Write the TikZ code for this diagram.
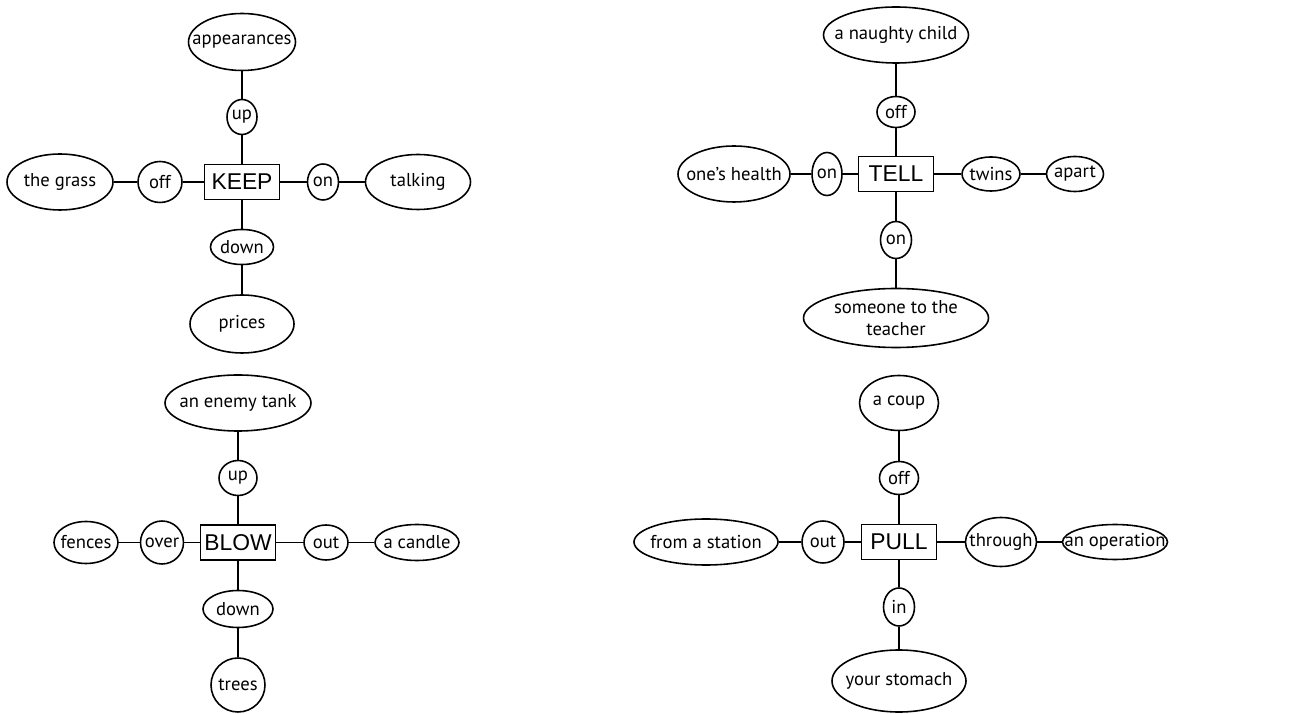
\documentclass[tikz,border=0pt]{standalone}
\usepackage{fontspec}
\usepackage{tikz}
\usetikzlibrary{shapes.geometric}
\newfontfamily\handfont{PT Sans}
\newfontfamily\verbfont{Liberation Sans}
\tikzset{
  verbbox/.style={draw=black, line width=0.9pt, inner sep=0pt, minimum width=15mm, minimum height=7mm, font=\verbfont\fontsize{13}{15}\selectfont},
  word/.style={ellipse, draw=black, line width=0.9pt, inner sep=0pt},
  every label/.style={inner sep=0pt, align=center, font=\handfont\fontsize{10.6}{12.5}\selectfont},
  link/.style={line width=0.75pt}
}
\begin{document}
\begin{tikzpicture}
\useasboundingbox (0,0) rectangle (25.84,14.26);
% KEEP
\node[verbbox] (keep) at (4.84,10.62) {KEEP};
\node[word, minimum width=21.4mm, minimum height=11.4mm, label=center:appearances] (appear) at (4.84,13.42) {};
\node[word, minimum width=6mm, minimum height=7mm, label=center:up] (kup) at (4.84,11.92) {};
\node[word, minimum width=8.8mm, minimum height=8.2mm, label=center:off] (koff) at (3.20,10.62) {};
\node[word, minimum width=21.2mm, minimum height=11.2mm, label=center:the grass] (grass) at (1.20,10.62) {};
\node[word, minimum width=6.2mm, minimum height=7.2mm, label=center:on] (kon) at (6.46,10.62) {};
\node[word, minimum width=21mm, minimum height=11mm, label=center:talking] (talk) at (8.36,10.62) {};
\node[word, minimum width=12.6mm, minimum height=7mm, label=center:down] (kdown) at (4.84,9.32) {};
\node[word, minimum width=20.8mm, minimum height=11.6mm, label=center:prices] (prices) at (4.84,7.78) {};
\draw[link] (appear) -- (kup) -- (keep) -- (kdown) -- (prices);
\draw[link] (grass) -- (koff) -- (keep) -- (kon) -- (talk);
% TELL
\node[verbbox] (tell) at (17.92,10.78) {TELL};
\node[word, minimum width=29mm, minimum height=11.2mm, label=center:a naughty child] (naughty) at (17.92,13.56) {};
\node[word, minimum width=7.6mm, minimum height=6.2mm, label=center:off] (toff) at (17.92,12.02) {};
\node[word, minimum width=22.4mm, minimum height=11.2mm, label=center:one’s health] (health) at (14.68,10.78) {};
\node[word, minimum width=6mm, minimum height=8.6mm, label=center:on] (ton) at (16.54,10.78) {};
\node[word, minimum width=11.6mm, minimum height=6.8mm, label=center:twins] (twins) at (19.82,10.78) {};
\node[word, minimum width=11.4mm, minimum height=7mm, label=center:apart] (apart) at (21.50,10.78) {};
\node[word, minimum width=6.2mm, minimum height=7.4mm, label=center:on] (tonb) at (17.92,9.46) {};
\node[word, minimum width=37mm, minimum height=11.8mm, label={center:{someone to the\\teacher}}] (teacher) at (17.92,7.90) {};
\draw[link] (naughty) -- (toff) -- (tell) -- (tonb) -- (teacher);
\draw[link] (health) -- (ton) -- (tell) -- (twins) -- (apart);
% BLOW
\node[verbbox] (blow) at (4.76,3.41) {BLOW};
\node[word, minimum width=29.2mm, minimum height=11.2mm, label=center:an enemy tank] (tank) at (4.76,6.20) {};
\node[word, minimum width=7.6mm, minimum height=7mm, label=center:up] (bup) at (4.76,4.70) {};
\node[word, minimum width=12.8mm, minimum height=8.4mm, label=center:fences] (fences) at (1.72,3.41) {};
\node[word, minimum width=8.6mm, minimum height=8.6mm, label=center:over] (over) at (3.24,3.41) {};
\node[word, minimum width=8.8mm, minimum height=7mm, label=center:out] (bout) at (6.52,3.41) {};
\node[word, minimum width=16.8mm, minimum height=7.2mm, label=center:a candle] (candle) at (8.34,3.41) {};
\node[word, minimum width=14mm, minimum height=7.4mm, label=center:down] (bdown) at (4.76,2.08) {};
\node[word, minimum width=10.8mm, minimum height=10.8mm, label=center:trees] (trees) at (4.76,0.56) {};
\draw[link] (tank) -- (bup) -- (blow) -- (bdown) -- (trees);
\draw[link] (fences) -- (over) -- (blow) -- (bout) -- (candle);
% PULL
\node[verbbox] (pull) at (17.98,3.42) {PULL};
\node[word, minimum width=15.8mm, minimum height=11mm, label=center:a coup] (coup) at (17.98,6.20) {};
\node[word, minimum width=7.8mm, minimum height=6.6mm, label=center:off] (poff) at (17.98,4.70) {};
\node[word, minimum width=28.8mm, minimum height=9.2mm, label=center:from a station] (station) at (14.12,3.42) {};
\node[word, minimum width=8.4mm, minimum height=8.4mm, label=center:out] (pout) at (16.46,3.42) {};
\node[word, minimum width=14.2mm, minimum height=9.8mm, label=center:through] (through) at (20.02,3.42) {};
\node[word, minimum width=21mm, minimum height=7mm, label=center:an operation] (operation) at (22.30,3.42) {};
\node[word, minimum width=6.2mm, minimum height=7.6mm, label=center:in] (pin) at (17.98,2.12) {};
\node[word, minimum width=26.8mm, minimum height=12.4mm, label=center:your stomach] (stomach) at (17.98,0.64) {};
\draw[link] (coup) -- (poff) -- (pull) -- (pin) -- (stomach);
\draw[link] (station) -- (pout) -- (pull) -- (through) -- (operation);
\end{tikzpicture}
\end{document}
